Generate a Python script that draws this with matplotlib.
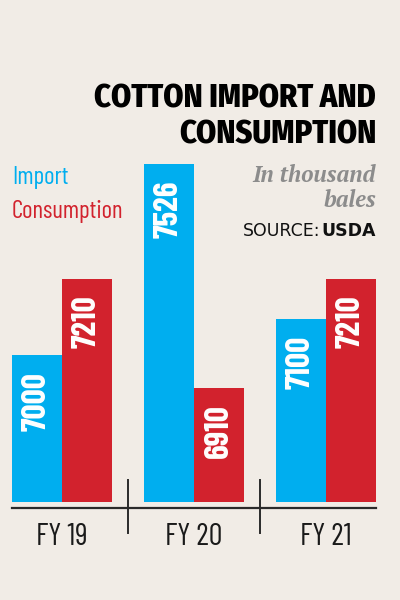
import matplotlib
matplotlib.use("Agg")
import matplotlib.pyplot as plt
from matplotlib import font_manager
import numpy as np

years = ["FY 19", "FY 20", "FY 21"]
imports = [7000, 7526, 7100]
consumption = [7210, 6910, 7210]

BG = "#f1ece6"
BLUE = "#00aeef"
RED = "#d2222d"

have = {f.name for f in font_manager.fontManager.ttflist}
def pick(*names):
    for n in names:
        if n in have:
            return n
    return "DejaVu Sans"

COND = pick("Barlow Condensed", "Fira Sans Extra Condensed", "PT Sans Narrow")
HEAVY = pick("Fira Sans Condensed", "Fira Sans Extra Condensed", "Barlow Condensed")
SERIF = pick("PT Serif", "Merriweather", "Liberation Serif", "DejaVu Serif")

W, H = 400, 600
fig = plt.figure(figsize=(4, 6), dpi=100, facecolor=BG)

# axes placed in pixels: bars from x=12..376, baseline y=502, top of tallest bar y=164
ax = fig.add_axes([12 / W, 1 - 502 / H, 364 / W, (502 - 164) / H])
ax.set_facecolor(BG)

x = np.arange(len(years))
bw = 50 / 132
ax.bar(x - bw / 2, imports, bw, color=BLUE)
ax.bar(x + bw / 2, consumption, bw, color=RED)
ax.set_xlim(-bw, len(years) - 1 + bw)
ax.set_ylim(6595, max(imports))

for xs, vals in ((x - bw / 2, imports), (x + bw / 2, consumption)):
    for xi, v in zip(xs, vals):
        ax.annotate(str(v), (xi, v), xytext=(0, -12), textcoords="offset points",
                    rotation=90, ha="center", va="top", color="white",
                    fontsize=24, fontweight="bold", family=COND)

for s in ("top", "left", "right"):
    ax.spines[s].set_visible(False)
ax.spines["bottom"].set_position(("outward", 4.3))
ax.spines["bottom"].set_linewidth(1.6)
ax.spines["bottom"].set_color("#2a2a2a")
ax.set_yticks([])
ax.set_xticks(x, years)
ax.tick_params(axis="x", length=0, pad=11, labelsize=22, labelcolor="#1a1a1a")
for lab in ax.get_xticklabels():
    lab.set_family(COND)

# separators between year groups
tr = ax.get_xaxis_transform()
for xs in x[:-1] + 0.5:
    ax.plot([xs, xs], [0.065, -0.092], transform=tr, color="#2a2a2a", lw=1.4, clip_on=False)

# title
fig.text(376 / W, 1 - 107 / H, "COTTON IMPORT AND", ha="right", va="baseline",
         fontsize=23.2, fontweight="heavy", family=HEAVY, color="black")
fig.text(376 / W, 1 - 143 / H, "CONSUMPTION", ha="right", va="baseline",
         fontsize=23.2, fontweight="heavy", family=HEAVY, color="black")

# legend
fig.text(12 / W, 1 - 184 / H, "Import", ha="left", va="baseline",
         fontsize=18, family=COND, color=BLUE)
fig.text(12 / W, 1 - 218 / H, "Consumption", ha="left", va="baseline",
         fontsize=18, family=COND, color=RED)

# unit note
fig.text(376 / W, 1 - 182 / H, "In thousand", ha="right", va="baseline", fontsize=16.3,
         style="italic", fontweight="bold", family=SERIF, color="#8c8c8c")
fig.text(376 / W, 1 - 207 / H, "bales", ha="right", va="baseline", fontsize=16.3,
         style="italic", fontweight="bold", family=SERIF, color="#8c8c8c")

# source
src = fig.text(376 / W, 1 - 236 / H, "USDA", ha="right", va="baseline", fontsize=12.5,
               fontweight="bold", family="DejaVu Sans", color="#111111")
fig.canvas.draw()
bb = src.get_window_extent()
fig.text(bb.x0 / W - 0.004, 1 - 236 / H, "SOURCE:", ha="right", va="baseline",
         fontsize=12.5, family="DejaVu Sans", color="#111111")

fig.savefig("out.png", dpi=100, facecolor=BG)
